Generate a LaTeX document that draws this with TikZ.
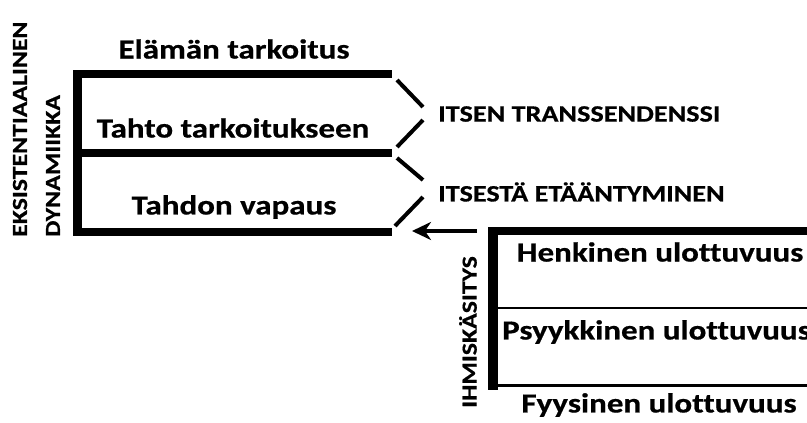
\documentclass[tikz,border=0pt]{standalone}
\usepackage{fontspec}
\setmainfont{Carlito}[FakeStretch=1.2, Ligatures=NoCommon, BoldFeatures={FakeBold=0.6}]
\usetikzlibrary{arrows.meta}
\tikzset{
  bar/.style={line width=8pt, line cap=butt},
  thinbar/.style={line width=2.5pt},
  brace/.style={line width=4pt},
  lbl/.style={font=\bfseries\fontsize{27.5}{30}\selectfont, inner sep=0pt, anchor=center},
  capslbl/.style={font=\bfseries\fontsize{23.5}{26}\selectfont, inner sep=0pt, anchor=west},
  side/.style={font=\bfseries\fontsize{21.5}{25}\selectfont, inner sep=0pt, rotate=90}
}
\begin{document}
\begin{tikzpicture}[x=1pt,y=-1pt]
\useasboundingbox (0,0) rectangle (807,423);

% existential dynamics ladder
\coordinate (a0) at (73,74);   \coordinate (a1) at (392,74);
\coordinate (b0) at (73,152.5);\coordinate (b1) at (392,152.5);
\coordinate (c0) at (73,232);  \coordinate (c1) at (392,232);
\draw[line width=9pt] (77.5,70) -- (77.5,236);
\draw[bar] (a0) -- (a1);
\draw[bar] (b0) -- (b1);
\draw[bar] (c0) -- (c1);

\node[lbl] (elama) at (234,49) {Elämän tarkoitus};
\node[lbl] (tahto) at (233,128) {Tahto tarkoitukseen};
\node[lbl] (vapaus) at (234,207) {Tahdon vapaus};

\node[side, anchor=west] (eks) at (20,237) {EKSISTENTIAALINEN};
\node[side, anchor=west] (dyn) at (53,237) {DYNAMIIKKA};

% brackets towards the two capacities
\coordinate (d1) at (397,80);  \coordinate (d2) at (423,107);
\coordinate (d3) at (423,120); \coordinate (d4) at (397,147);
\coordinate (d5) at (397,158); \coordinate (d6) at (423,180);
\coordinate (d7) at (423,197); \coordinate (d8) at (395,226);
\draw[brace] (d1) -- (d2);
\draw[brace] (d3) -- (d4);
\draw[brace] (d5) -- (d6);
\draw[brace] (d7) -- (d8);

\node[capslbl] (trans) at (438,114) {ITSEN TRANSSENDENSSI};
\node[capslbl] (etaan) at (438,192) {ITSESTÄ ETÄÄNTYMINEN};

% human image ladder
\coordinate (h0) at (488,231);   \coordinate (h1) at (807,231);
\coordinate (p0) at (488,308);   \coordinate (p1) at (807,308);
\coordinate (f0) at (488,385);   \coordinate (f1) at (807,385);
\draw[line width=10pt] (493,227) -- (493,390);
\draw[bar] (h0) -- (h1);
\draw[thinbar] (p0) -- (p1);
\draw[line width=3pt] (f0) -- (f1);

\node[lbl] (henk) at (660,252) {Henkinen ulottuvuus};
\node[lbl, anchor=west] (psyk) at (502,332) {Psyykkinen ulottuvuus};
\node[lbl] (fyys) at (659,405) {Fyysinen ulottuvuus};

\node[side, anchor=center] (ihm) at (468,332) {IHMISKÄSITYS};

% arrow pointing back to the will
\coordinate (arrS) at (477,231);
\coordinate (arrE) at (412,231);
\draw[line width=4pt, -{Stealth[length=19pt,width=18pt,inset=6pt]}] (arrS) -- (arrE);
\end{tikzpicture}
\end{document}
